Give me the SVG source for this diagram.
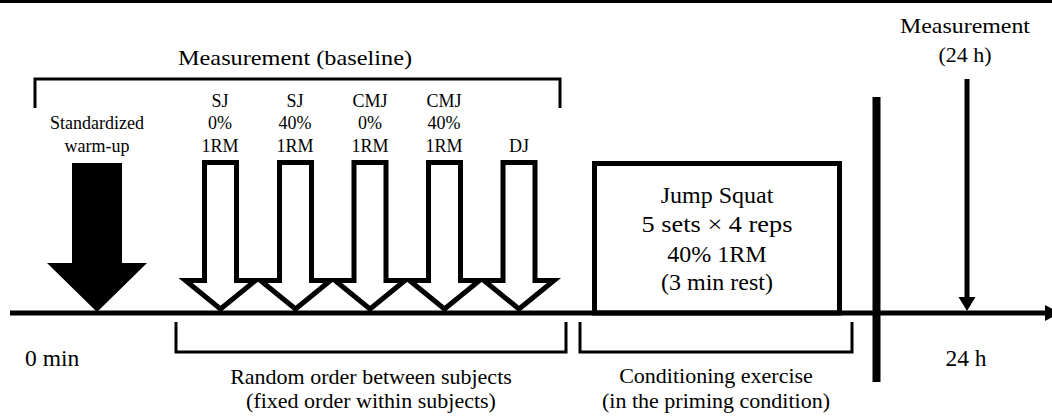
<svg xmlns="http://www.w3.org/2000/svg" width="1052" height="416" viewBox="0 0 1052 416">
  <style>
    text { font-family: "Liberation Serif", "Times New Roman", serif; fill: #000; text-anchor: middle; }
    .lbl { font-size: 18px; }
    .big { font-size: 22px; }
    .tm { font-size: 23.5px; }
    .box { font-size: 24px; }
    .hollow { fill: #fff; stroke: #000; stroke-width: 5; stroke-linejoin: miter; }
    .br { fill: none; stroke: #000; stroke-width: 3; }
  </style>
  <rect x="0" y="0" width="1052" height="3" fill="#000"/>

  <g id="connectors">
    <line x1="10" y1="313" x2="1046" y2="313" stroke="#000" stroke-width="5"/>
    <polygon points="1045,305 1060,313 1045,321" fill="#000"/>
    <line x1="967" y1="79" x2="967" y2="299" stroke="#000" stroke-width="5"/>
    <polygon points="958.5,297 975.5,297 967,311" fill="#000"/>
    <rect x="872.5" y="97" width="8" height="285" fill="#000"/>
  </g>

  <g id="baseline-measurement">
    <text class="big" x="295" y="65" textLength="234" lengthAdjust="spacingAndGlyphs">Measurement  (baseline)</text>
    <path class="br" d="M35,108 V79 H560 V108"/>
  </g>

  <g id="warmup">
    <text class="lbl" x="97" y="129" font-size="19">Standardized</text>
    <text class="lbl" x="97" y="151.5" font-size="19">warm-up</text>
    <polygon points="72,163 122,163 122,263 147,263 97,312 47,263 72,263" fill="#000"/>
  </g>

  <g id="sj0">
    <text class="lbl" x="220" y="106.5">SJ</text>
    <text class="lbl" x="220" y="129">0%</text>
    <text class="lbl" x="220" y="151.5">1RM</text>
    <path class="hollow" d="M204.5,162.5 H236.5 V280.5 H255.5 L220.5,309 L185.5,280.5 H204.5 Z"/>
  </g>
  <g id="sj40">
    <text class="lbl" x="295" y="106.5">SJ</text>
    <text class="lbl" x="295" y="129">40%</text>
    <text class="lbl" x="295" y="151.5">1RM</text>
    <path class="hollow" d="M279.5,162.5 H311.5 V280.5 H330.5 L295.5,309 L260.5,280.5 H279.5 Z"/>
  </g>
  <g id="cmj0">
    <text class="lbl" x="370" y="106.5">CMJ</text>
    <text class="lbl" x="370" y="129">0%</text>
    <text class="lbl" x="370" y="151.5">1RM</text>
    <path class="hollow" d="M354,162.5 H386 V280.5 H405 L370,309 L335,280.5 H354 Z"/>
  </g>
  <g id="cmj40">
    <text class="lbl" x="444" y="106.5">CMJ</text>
    <text class="lbl" x="444" y="129">40%</text>
    <text class="lbl" x="444" y="151.5">1RM</text>
    <path class="hollow" d="M428.5,162.5 H460.5 V280.5 H479.5 L444.5,309 L409.5,280.5 H428.5 Z"/>
  </g>
  <g id="dj">
    <text class="lbl" x="519" y="151.5">DJ</text>
    <path class="hollow" d="M503,162.5 H535 V280.5 H554 L519,309 L484,280.5 H503 Z"/>
  </g>

  <g id="jump-squat">
    <rect x="594.5" y="163.5" width="245" height="149.5" fill="none" stroke="#000" stroke-width="5"/>
    <text class="box" x="717" y="203">Jump Squat</text>
    <text class="box" x="717" y="232" textLength="151" lengthAdjust="spacingAndGlyphs">5 sets × 4 reps</text>
    <text class="box" x="717" y="262">40% 1RM</text>
    <text class="box" x="717" y="290">(3 min rest)</text>
  </g>

  <g id="measurement-24h">
    <text class="big" x="965" y="33" textLength="130" lengthAdjust="spacingAndGlyphs">Measurement</text>
    <text class="big" x="965" y="62">(24 h)</text>
  </g>

  <g id="time-labels">
    <text class="tm" x="25" y="366" style="text-anchor:start">0 min</text>
    <text class="tm" x="966" y="366">24 h</text>
  </g>

  <g id="random-order">
    <path class="br" d="M176,322 V352 H566 V322" stroke-width="2.5"/>
    <text class="big" x="371" y="384">Random order between subjects</text>
    <text class="big" x="371" y="408">(fixed order within subjects)</text>
  </g>

  <g id="conditioning">
    <path class="br" d="M580,322 V352 H852 V322" stroke-width="2.5"/>
    <text class="big" x="716" y="383">Conditioning exercise</text>
    <text class="big" x="716" y="408">(in the priming condition)</text>
  </g>
</svg>
